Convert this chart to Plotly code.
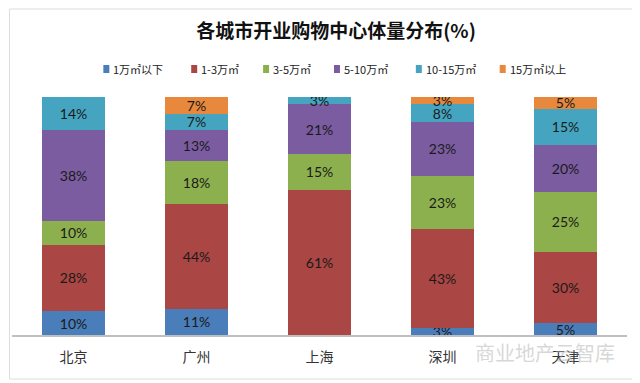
import plotly.graph_objects as go

cities = ["北京", "广州", "上海", "深圳", "天津"]
series_names = ["1万㎡以下", "1-3万㎡", "3-5万㎡", "5-10万㎡", "10-15万㎡", "15万㎡以上"]
s_lt1 = [10, 11, 0, 3, 5]
s_1_3 = [28, 44, 61, 43, 30]
s_3_5 = [10, 18, 15, 23, 25]
s_5_10 = [38, 13, 21, 23, 20]
s_10_15 = [14, 7, 3, 8, 15]
s_gt15 = [0, 7, 0, 3, 5]
colors = ["#4A7EBB", "#AA4643", "#8DB04E", "#7B5CA0", "#45A5C0", "#E8883C"]

all_series = [s_lt1, s_1_3, s_3_5, s_5_10, s_10_15, s_gt15]

# page body has an 8px default margin; work in page pixels, offset into figure pixels
OFF = 8
W, H = 640 - OFF, 383 - OFF
PL, PR, PT, PB = 11.5 - OFF, 627.5 - OFF, 97 - OFF, 335 - OFF
PW, PH = PR - PL, PB - PT

def px_x(x):
    return (x - OFF - PL) / PW

def px_y(y):
    return (PB - (y - OFF)) / PH

fig = go.Figure()
for name, vals, col in zip(series_names, all_series, colors):
    fig.add_trace(go.Bar(
        x=cities, y=vals, name=name, marker=dict(color=col, line=dict(width=0)),
        text=[f"{v}%" if v > 0 else "" for v in vals],
        textposition="inside", insidetextanchor="middle",
        textfont=dict(family="Lato, Noto Sans", size=14, color="#1a1a1a"),
        hoverinfo="skip", showlegend=False,
    ))

fig.update_layout(
    barmode="stack", barnorm="percent", bargap=0.49,
    width=W, height=H,
    margin=dict(l=PL, r=W - PR, t=PT, b=H - PB, autoexpand=False),
    paper_bgcolor="white", plot_bgcolor="white",
    uniformtext=dict(minsize=14, mode="show"),
    title=dict(text="<b>各城市开业购物中心体量分布(%)</b>", x=(336 - OFF) / W, xanchor="center",
               y=1 - (31 - OFF) / H, yanchor="middle",
               font=dict(family="Noto Sans CJK SC", size=19, color="#111")),
    xaxis=dict(showline=True, linecolor="#BFBFBF", linewidth=1.5, showgrid=False,
               tickfont=dict(family="Noto Sans CJK SC", size=14, color="#333"),
               ticks="", ticklabelstandoff=8),
    yaxis=dict(visible=False, range=[0, 100]),
    showlegend=False,
)

# custom compact legend (layout positions, page pixels)
legend_x = [103, 191, 263, 334, 416, 500]
legend_y = 69
for name, col, lx in zip(series_names, colors, legend_x):
    fig.add_shape(type="rect", xref="paper", yref="paper",
                  x0=px_x(lx), x1=px_x(lx + 6), y0=px_y(legend_y + 4), y1=px_y(legend_y - 4),
                  line=dict(width=0), fillcolor=col)
    fig.add_annotation(text=name, xref="paper", yref="paper",
                       x=px_x(lx + 8), y=px_y(legend_y), xanchor="left", yanchor="middle",
                       showarrow=False,
                       font=dict(family="Noto Sans CJK SC", size=11, color="#222"))

fig.add_shape(type="rect", xref="paper", yref="paper",
              x0=px_x(9), x1=px_x(636), y0=px_y(379), y1=px_y(9),
              line=dict(color="#DDDDDD", width=1), fillcolor="rgba(0,0,0,0)", layer="below")

fig.add_annotation(text="商业地产云智库", xref="paper", yref="paper",
                   x=px_x(545), y=px_y(352), xanchor="center", yanchor="middle", showarrow=False,
                   font=dict(family="Noto Sans CJK SC", size=20, color="rgba(175,175,175,0.5)"))

fig.write_html("out.html")
